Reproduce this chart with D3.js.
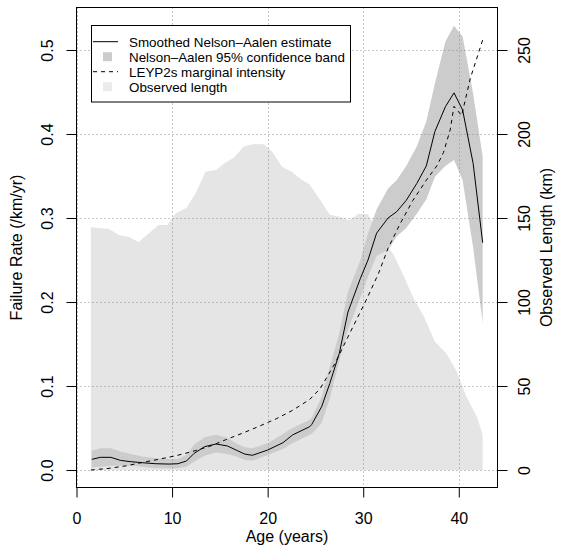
<!DOCTYPE html>
<html>
<head>
<meta charset="utf-8">
<script src="https://cdn.jsdelivr.net/npm/d3@7"></script>
<style>
  body { margin: 0; background: #fff; }
  svg { display: block; font-family: "Liberation Sans", Arial, Helvetica, sans-serif; }
</style>
</head>
<body>
<div id="chart"></div>
<script>
// --- Data ---
const lengthAge = [1.5, 3.4, 4.5, 5.5, 6.5, 8.6, 9.5, 10.4, 11.5, 12.5, 13.5, 14.6, 15.6, 16.5, 17.5, 18.6, 19.6, 20.5, 21.5, 22.5, 23.6, 24.4, 25.5, 26.5, 27.6, 28.5, 29.5, 30.5, 31.8, 33.2, 34.2, 35.2, 36.3, 37.5, 38.7, 39.8, 40.8, 41.9, 42.5];
const lengthKm = [144.5, 143.4, 139.7, 138.7, 135.7, 145.8, 145.8, 152.8, 156, 165, 177.6, 178.6, 183, 186, 192.5, 194, 193.9, 189.3, 180.5, 177.6, 172.6, 170, 160.7, 152, 150.6, 148.6, 152.6, 152.2, 139, 128, 116, 103, 92, 76.4, 69.4, 58.5, 43.6, 31.7, 20.8];

const naAge = [1.6, 2.5, 3.6, 4.6, 5.7, 6.9, 8.3, 9.7, 10.6, 11.5, 12.3, 13.4, 14.6, 15.8, 16.7, 17.6, 18.4, 20.0, 21.6, 22.6, 24.4, 24.6, 25.65, 26.5, 27.5, 28.4, 29.7, 30.5, 31.4, 32.6, 33.5, 34.5, 35.6, 36.6, 37.5, 38.6, 39.5, 40.4, 41.5, 42.5];
const naRate = [0.0127, 0.0151, 0.0151, 0.0115, 0.0099, 0.0087, 0.0075, 0.0071, 0.0075, 0.0107, 0.0198, 0.0278, 0.031, 0.0286, 0.0238, 0.019, 0.0175, 0.0238, 0.0325, 0.0417, 0.0516, 0.054, 0.0754, 0.103, 0.139, 0.188, 0.228, 0.25, 0.282, 0.30, 0.3075, 0.321, 0.341, 0.362, 0.403, 0.4325, 0.449, 0.4286, 0.365, 0.2706];
const naLower = [0.003, 0.004, 0.005, 0.005, 0.005, 0.004, 0.002, 0.002, 0.002, 0.004, 0.010, 0.017, 0.021, 0.019, 0.016, 0.012, 0.011, 0.018, 0.025, 0.032, 0.042, 0.043, 0.056, 0.085, 0.130, 0.167, 0.205, 0.230, 0.255, 0.262, 0.278, 0.288, 0.305, 0.322, 0.349, 0.362, 0.369, 0.345, 0.265, 0.175];
const naUpper = [0.023, 0.026, 0.026, 0.022, 0.019, 0.016, 0.014, 0.013, 0.013, 0.018, 0.030, 0.039, 0.042, 0.038, 0.032, 0.027, 0.026, 0.032, 0.043, 0.050, 0.060, 0.062, 0.087, 0.123, 0.163, 0.212, 0.250, 0.282, 0.310, 0.335, 0.345, 0.362, 0.385, 0.415, 0.460, 0.510, 0.529, 0.516, 0.448, 0.373];

const leypAge = [1.5, 3.4, 5.2, 6.9, 8.7, 10.4, 12.1, 13.9, 15.6, 17.4, 19.1, 20.9, 22.6, 24.4, 25.5, 27.05, 28.6, 30.3, 31.6, 32.6, 33.85, 35.2, 36.6, 37.7, 38.4, 39.1, 39.5, 40.3, 41.2, 42.5];
const leypRate = [0.0, 0.002, 0.005, 0.009, 0.013, 0.017, 0.022, 0.028, 0.036, 0.044, 0.052, 0.061, 0.071, 0.084, 0.097, 0.127, 0.163, 0.202, 0.234, 0.264, 0.293, 0.321, 0.345, 0.362, 0.378, 0.405, 0.433, 0.422, 0.466, 0.512];

const xTicks = [0, 10, 20, 30, 40];
const yTicks = [0, 0.1, 0.2, 0.3, 0.4, 0.5];
const kmTicks = [0, 50, 100, 150, 200, 250];
const legendLabels = ["Smoothed Nelson\u2013Aalen estimate", "Nelson\u2013Aalen 95% confidence band", "LEYP2s marginal intensity", "Observed length"];

// --- Layout ---
const W = 563, H = 548;
const box = { left: 76.5, right: 497.5, top: 7.5, bottom: 487.5 };
const colors = { length: "#e5e5e5", band: "#cccccc", grid: "#8c8c8c" };
const font = 16;

const svg = d3.select("#chart").append("svg").attr("width", W).attr("height", H);

const x = d3.scaleLinear().domain([0, 44.05]).range([box.left, box.right]);
const y = d3.scaleLinear().domain([-0.0208, 0.5506]).range([box.bottom, box.top]);
const yKm = d3.scaleLinear().domain(y.domain().map(v => v * 500)).range([box.bottom, box.top]);

// Observed length (right axis)
svg.append("path")
    .datum(lengthAge.map((a, i) => [a, lengthKm[i]]))
    .attr("fill", colors.length)
    .attr("d", d3.area().x(d => x(d[0])).y0(yKm(0)).y1(d => yKm(d[1])));

// Confidence band
svg.append("path")
    .datum(naAge.map((a, i) => [a, naLower[i], naUpper[i]]))
    .attr("fill", colors.band)
    .attr("d", d3.area().x(d => x(d[0])).y0(d => y(d[1])).y1(d => y(d[2])));

// Grid (dotted)
const grid = svg.append("g").attr("stroke", colors.grid).attr("stroke-width", 1).attr("stroke-dasharray", "1,3");
grid.selectAll(".vg").data(xTicks).enter().append("line")
    .attr("x1", d => Math.round(x(d)) + 0.5).attr("x2", d => Math.round(x(d)) + 0.5)
    .attr("y1", box.top).attr("y2", box.bottom);
grid.selectAll(".hg").data(yTicks).enter().append("line")
    .attr("y1", d => Math.round(y(d)) + 0.5).attr("y2", d => Math.round(y(d)) + 0.5)
    .attr("x1", box.left).attr("x2", box.right);

// Lines
const line = d3.line().x(d => x(d[0])).y(d => y(d[1]));
svg.append("path")
    .datum(leypAge.map((a, i) => [a, leypRate[i]]))
    .attr("fill", "none").attr("stroke", "#000").attr("stroke-width", 1)
    .attr("stroke-dasharray", "4,4")
    .attr("d", line);
svg.append("path")
    .datum(naAge.map((a, i) => [a, naRate[i]]))
    .attr("fill", "none").attr("stroke", "#000").attr("stroke-width", 1)
    .attr("d", line);

// Box
svg.append("rect")
    .attr("x", box.left).attr("y", box.top)
    .attr("width", box.right - box.left).attr("height", box.bottom - box.top)
    .attr("fill", "none").attr("stroke", "#000").attr("stroke-width", 1);

// Axes
function styleAxis(g) {
    g.select(".domain").remove();
    g.attr("font-size", font).attr("font-family", null);
    g.selectAll("text").attr("fill", "#000");
}

const gx = svg.append("g").attr("transform", `translate(0,${box.bottom})`)
    .call(d3.axisBottom(x).tickValues(xTicks).tickSize(10).tickFormat(d3.format("d")));
styleAxis(gx);
gx.selectAll("text").attr("y", 36.5).attr("dy", 0);

const gl = svg.append("g").attr("transform", `translate(${box.left},0)`)
    .call(d3.axisLeft(y).tickValues(yTicks).tickSize(10).tickFormat(d3.format(".1f")));
styleAxis(gl);
gl.selectAll("text").attr("x", 0).attr("dy", 0).attr("text-anchor", "middle")
    .attr("transform", "translate(-23.5,0) rotate(-90)");

const gr = svg.append("g").attr("transform", `translate(${box.right},0)`)
    .call(d3.axisRight(yKm).tickValues(kmTicks).tickSize(10).tickFormat(d3.format("d")));
styleAxis(gr);
gr.selectAll("text").attr("x", 0).attr("dy", 0).attr("text-anchor", "middle")
    .attr("transform", "translate(32.5,0) rotate(-90)");

// Axis titles
const midY = (box.top + box.bottom) / 2;
svg.append("text").attr("x", (box.left + box.right) / 2).attr("y", 541.5)
    .attr("text-anchor", "middle").attr("font-size", font).text("Age (years)");
svg.append("text").attr("transform", `translate(21.5,${midY}) rotate(-90)`)
    .attr("text-anchor", "middle").attr("font-size", font).text("Failure Rate (/km/yr)");
svg.append("text").attr("transform", `translate(551.5,${midY}) rotate(-90)`)
    .attr("text-anchor", "middle").attr("font-size", font).text("Observed Length (km)");

// Legend
const lg = svg.append("g");
lg.append("rect").attr("x", 91.5).attr("y", 25.5).attr("width", 259).attr("height", 76.5)
    .attr("fill", "#fff").attr("stroke", "#000").attr("stroke-width", 1);
const rowY = i => 41.7 + i * 15;
lg.append("line").attr("x1", 93).attr("x2", 118).attr("y1", rowY(0)).attr("y2", rowY(0))
    .attr("stroke", "#000").attr("stroke-width", 1);
lg.append("rect").attr("x", 103).attr("y", rowY(1) - 4.5).attr("width", 9).attr("height", 9).attr("fill", colors.band);
lg.append("line").attr("x1", 93).attr("x2", 118).attr("y1", rowY(2)).attr("y2", rowY(2))
    .attr("stroke", "#000").attr("stroke-width", 1).attr("stroke-dasharray", "4,4");
lg.append("rect").attr("x", 103).attr("y", rowY(3) - 4.5).attr("width", 9).attr("height", 9).attr("fill", "#ebebeb");
lg.selectAll(".lt").data(legendLabels).enter().append("text")
    .attr("x", 129).attr("y", (d, i) => rowY(i) + 4.8)
    .attr("font-size", 13.4).text(d => d);
</script>
</body>
</html>
